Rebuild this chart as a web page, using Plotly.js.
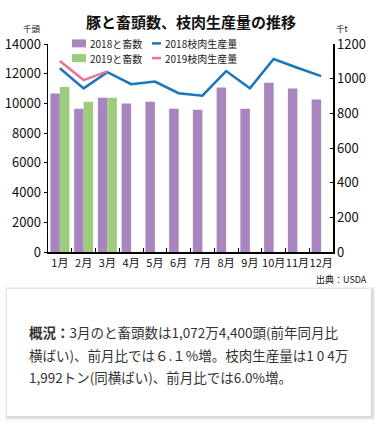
<!DOCTYPE html>
<html>
<head>
<meta charset="utf-8">
<script src="https://cdn.plot.ly/plotly-3.0.1.min.js"></script>
<style>
html,body{margin:0;padding:0;background:#fff;}
#chart{width:382px;height:429px;}
</style>
</head>
<body>
<div id="chart"></div>
<script>
// ---- data ----
const months = ["1月","2月","3月","4月","5月","6月","7月","8月","9月","10月","11月","12月"];
const slaughter2018 = [10660, 9650, 10390, 9990, 10120, 9650, 9580, 11070, 9650, 11400, 11000, 10260];
const slaughter2019 = [11110, 10120, 10390];
const meat2018 = [1060, 944, 1037, 968, 983, 916, 902, 1044, 944, 1113, 1063, 1015];
const meat2019 = [1102, 992, 1042];
const seriesNames = ["2018と畜数", "2019と畜数", "2018枝肉生産量", "2019枝肉生産量"];
const titleText = "豚と畜頭数、枝肉生産量の推移";
const leftUnit = "千頭";
const rightUnit = "千t";
const sourceText = "出典：USDA";
const noteLines = [
  "<b>概況：</b>3月のと畜頭数は1,072万4,400頭(前年同月比",
  "横ばい)、前月比では６.１%増。枝肉生産量は1 0 4万",
  "1,992トン(同横ばい)、前月比では6.0%増。"
];

// ---- geometry helpers (pixel -> paper) ----
const W = 382, H = 429;
const L = 48, R = 333, T = 44, B = 252;
const px = x => (x - L) / (R - L);
const py = y => (B - y) / (B - T);

const FONT = "Noto Sans CJK JP, Noto Sans, sans-serif";
const purple = "#a985bf", green = "#9ccc7c", blue = "#1a75bb", pink = "#e8739b";

const traces = [
  {type:"bar", name:seriesNames[0], x:months, y:slaughter2018, marker:{color:purple}, yaxis:"y", showlegend:false},
  {type:"bar", name:seriesNames[1], x:months.slice(0, slaughter2019.length), y:slaughter2019, marker:{color:green}, yaxis:"y", showlegend:false},
  {type:"scatter", mode:"lines", name:seriesNames[2], x:months, y:meat2018, line:{color:blue, width:2.5}, yaxis:"y2", showlegend:false},
  {type:"scatter", mode:"lines", name:seriesNames[3], x:months.slice(0, meat2019.length), y:meat2019, line:{color:pink, width:2.5}, yaxis:"y2", showlegend:false}
];

const shapes = [];
const annotations = [];

// legend (custom)
const legRows = [43.4, 58.1];
shapes.push({type:"rect", xref:"paper", yref:"paper", x0:px(72), x1:px(86), y0:py(legRows[0]+4), y1:py(legRows[0]-4), fillcolor:purple, line:{width:0}});
shapes.push({type:"rect", xref:"paper", yref:"paper", x0:px(72), x1:px(86), y0:py(legRows[1]+4), y1:py(legRows[1]-4), fillcolor:green, line:{width:0}});
shapes.push({type:"line", xref:"paper", yref:"paper", x0:px(152), x1:px(161), y0:py(legRows[0]), y1:py(legRows[0]), line:{color:blue, width:2.5}});
shapes.push({type:"line", xref:"paper", yref:"paper", x0:px(152), x1:px(161), y0:py(legRows[1]), y1:py(legRows[1]), line:{color:pink, width:2.5}});
const legText = [[seriesNames[0], 89, legRows[0]], [seriesNames[1], 89, legRows[1]], [seriesNames[2], 164, legRows[0]], [seriesNames[3], 164, legRows[1]]];
legText.forEach(([t, x, y]) => annotations.push({xref:"paper", yref:"paper", x:px(x), y:py(y), text:t, showarrow:false, xanchor:"left", yanchor:"middle", borderpad:0, font:{family:FONT, size:10, color:"#222"}}));

// title & units
annotations.push({xref:"paper", yref:"paper", x:px(191), y:py(22), text:"<b>"+titleText+"</b>", showarrow:false, xanchor:"center", yanchor:"middle", font:{family:FONT, size:15, color:"#111"}});
annotations.push({xref:"paper", yref:"paper", x:px(32), y:py(28.5), text:leftUnit, showarrow:false, xanchor:"center", yanchor:"middle", font:{family:FONT, size:8.5, color:"#111"}});
annotations.push({xref:"paper", yref:"paper", x:px(342), y:py(28.5), text:rightUnit, showarrow:false, xanchor:"center", yanchor:"middle", font:{family:FONT, size:8.5, color:"#111"}});
annotations.push({xref:"paper", yref:"paper", x:px(369), y:py(279), text:sourceText, showarrow:false, xanchor:"right", yanchor:"middle", font:{family:FONT, size:9, color:"#111"}});

// note box with soft shadow
const bx0 = 7, bx1 = 371, by0 = 289, by1 = 416;
[[4, "#f2f2f2"], [3, "#e6e6e6"], [2, "#d9d9d9"]].forEach(([o, c]) => {
  shapes.push({type:"rect", xref:"paper", yref:"paper", x0:px(bx0 - o + 2), x1:px(bx1 + o), y0:py(by1 + o), y1:py(by0 - o + 2), fillcolor:c, line:{width:0}, layer:"below"});
});
shapes.push({type:"rect", xref:"paper", yref:"paper", x0:px(bx0), x1:px(bx1), y0:py(by1), y1:py(by0), fillcolor:"#ffffff", line:{width:0}, layer:"below"});
const noteY = [332, 355, 377];
noteLines.forEach((t, i) => annotations.push({xref:"paper", yref:"paper", x:px(27), y:py(noteY[i]), text:t, showarrow:false, xanchor:"left", yanchor:"middle", font:{family:FONT, size:13.5, color:"#333"}}));

const layout = {
  width: W, height: H,
  margin: {l: L, r: W - R, t: T, b: H - B, pad: 0},
  paper_bgcolor: "#ffffff", plot_bgcolor: "rgba(0,0,0,0)",
  barmode: "group", bargap: 0.2, bargroupgap: 0,
  font: {family: FONT, color: "#111"},
  xaxis: {
    type: "category", showgrid: false, showline: true, linecolor: "#000", linewidth: 1.5,
    ticks: "inside", tickson: "boundaries", ticklen: 4, tickcolor: "#000", tickwidth: 1,
    tickangle: 0, tickfont: {family: FONT, size: 11, color: "#111"}, fixedrange: true, zeroline: false
  },
  yaxis: {
    range: [0, 14000], dtick: 2000, showgrid: false, showline: true, linecolor: "#000", linewidth: 1.5,
    ticks: "outside", ticklen: 3, tickcolor: "#000", tickfont: {family: FONT, size: 13, color: "#111"},
    zeroline: false, tickformat: "d"
  },
  yaxis2: {
    range: [0, 1200], dtick: 200, overlaying: "y", side: "right", showgrid: false, showline: true,
    linecolor: "#000", linewidth: 1.5, ticks: "inside", ticklen: 3, tickcolor: "#000",
    tickfont: {family: FONT, size: 13, color: "#111"}, zeroline: false
  },
  shapes: shapes,
  annotations: annotations,
  showlegend: false
};

Plotly.newPlot("chart", traces, layout, {displayModeBar: false, staticPlot: true});
</script>
</body>
</html>
